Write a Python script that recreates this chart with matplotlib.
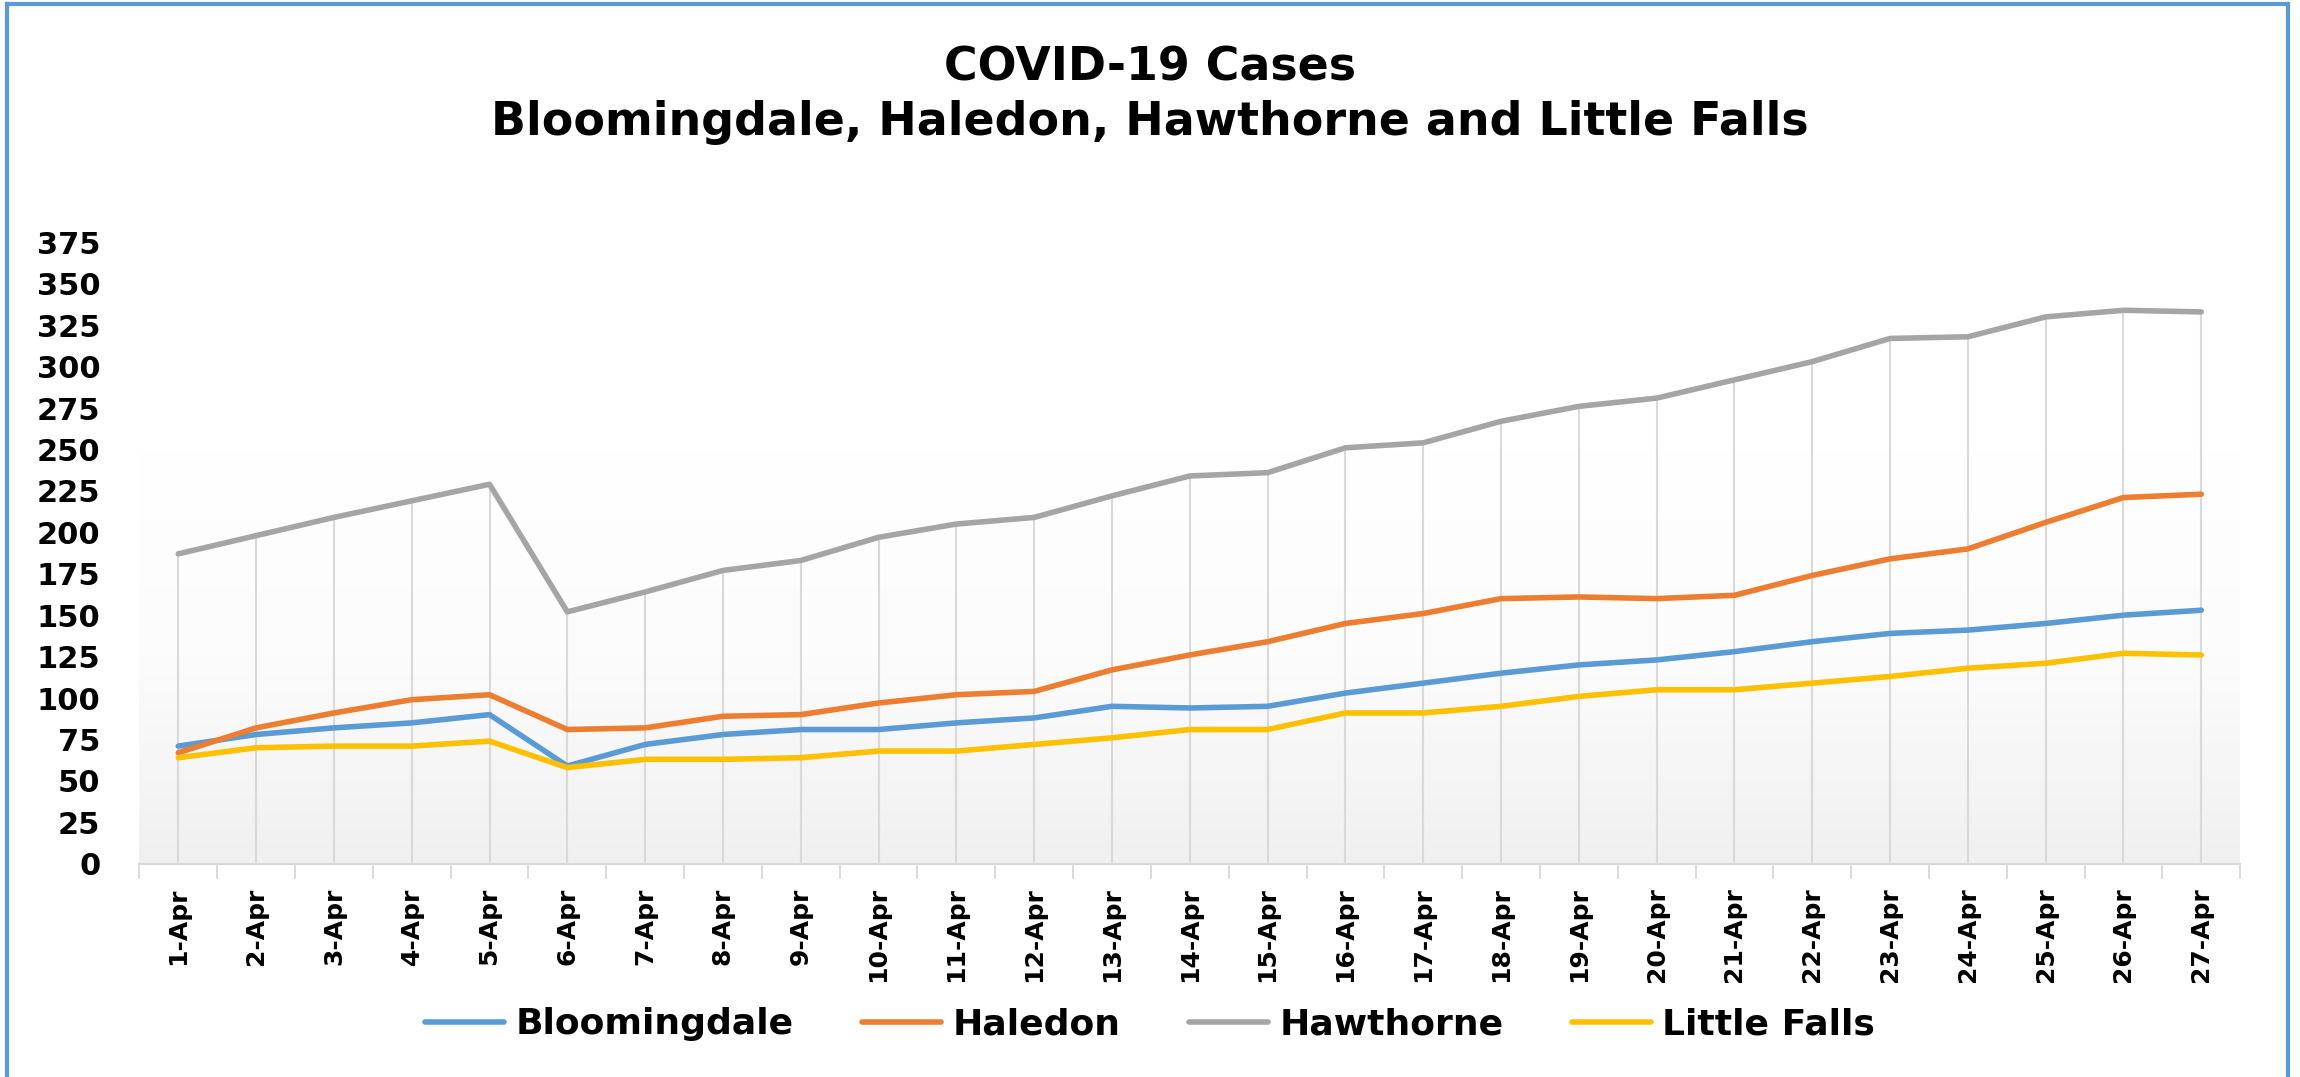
import numpy as np
import matplotlib
matplotlib.use("Agg")
import matplotlib.pyplot as plt
from matplotlib.colors import LinearSegmentedColormap
from matplotlib.lines import Line2D

# data
days = [f"{d}-Apr" for d in range(1, 28)]
bloomingdale = [71, 78, 82, 85, 90, 59, 72, 78, 81, 81, 85, 88, 95, 94, 95,
                103, 109, 115, 120, 123, 128, 134, 139, 141, 145, 150, 153]
haledon = [67, 82, 91, 99, 102, 81, 82, 89, 90, 97, 102, 104, 117, 126, 134,
           145, 151, 160, 161, 160, 162, 174, 184, 190, 206, 221, 223]
hawthorne = [187, 198, 209, 219, 229, 152, 164, 177, 183, 197, 205, 209, 222, 234, 236,
             251, 254, 267, 276, 281, 292, 303, 317, 318, 330, 334, 333]
little_falls = [64, 70, 71, 71, 74, 58, 63, 63, 64, 68, 68, 72, 76, 81, 81,
                91, 91, 95, 101, 105, 105, 109, 113, 118, 121, 127, 126]
yticks = list(range(0, 376, 25))

names = ["Bloomingdale", "Haledon", "Hawthorne", "Little Falls"]
colors = ["#5B9BD5", "#ED7D31", "#A5A5A5", "#FFC000"]

plt.rcParams['font.family'] = ['DejaVu Sans']

fig = plt.figure(figsize=(23, 10.77), dpi=100)
ax = fig.add_axes([0.0606, 0.198, 0.9134, 0.577])

x = np.arange(len(days))

# plot area gradient, white on top going to light grey at the bottom
grad = np.linspace(0, 1, 256).reshape(-1, 1)
cmap = LinearSegmentedColormap.from_list("bg", ["#FFFFFF", "#FFFFFF", "#FCFCFC", "#F0F0F0"])
ax.imshow(grad, extent=[-0.5, len(days) - 0.5, 0, 375], aspect='auto', cmap=cmap,
          zorder=0, origin='upper')

# drop lines from the highest series
ax.vlines(x, 0, hawthorne, color="#D9D9D9", linewidth=1.5, zorder=1)

for vals, name, c in zip([bloomingdale, haledon, hawthorne, little_falls], names, colors):
    ax.plot(x, vals, color=c, linewidth=4, label=name, zorder=3, solid_capstyle='round')

ax.set_xlim(-0.5, len(days) - 0.5)
ax.set_ylim(0, 375)

ax.set_yticks(yticks)
ax.set_yticklabels([str(t) for t in yticks], fontsize=22, fontweight='bold')
ax.tick_params(axis='y', length=0, pad=28)

ax.set_xticks(x)
ax.set_xticklabels(days, rotation=90, fontsize=18, fontweight='bold')
ax.set_xticks(np.arange(-0.5, len(days), 1), minor=True)
ax.tick_params(axis='x', which='major', length=0, pad=17)
ax.tick_params(axis='x', which='minor', length=11, width=1.3, color="#D9D9D9")

for s in ['top', 'right', 'left']:
    ax.spines[s].set_visible(False)
ax.spines['bottom'].set_color("#D9D9D9")
ax.spines['bottom'].set_linewidth(1.5)

fig.text(0.5, 0.937, "COVID-19 Cases", ha='center', va='center',
         fontsize=33, fontweight='bold')
fig.text(0.5, 0.886, "Bloomingdale, Haledon, Hawthorne and Little Falls", ha='center',
         va='center', fontsize=33, fontweight='bold')

fig.legend(loc='center', bbox_to_anchor=(0.5, 0.049), ncol=4, frameon=False,
           prop={'size': 26, 'weight': 'bold'}, handlelength=2.2, columnspacing=1.9,
           handletextpad=0.3)

# blue frame round the chart
border = "#5B9BD5"
fig.add_artist(Line2D([0.003, 0.003], [0, 0.996], color=border, linewidth=3, transform=fig.transFigure))
fig.add_artist(Line2D([0.9948, 0.9948], [0, 0.996], color=border, linewidth=3, transform=fig.transFigure))
fig.add_artist(Line2D([0.003, 0.9948], [0.996, 0.996], color=border, linewidth=3, transform=fig.transFigure))

fig.savefig("out.png", dpi=100)
